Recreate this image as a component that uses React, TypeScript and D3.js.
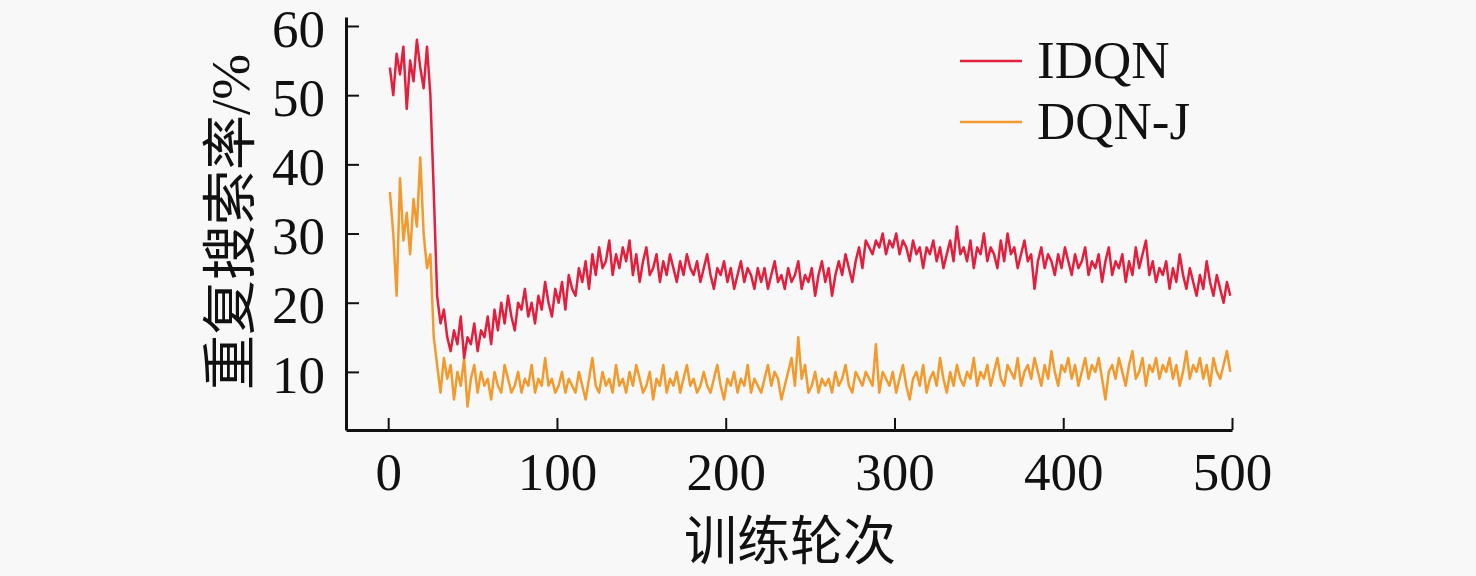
import * as d3 from "d3";
import React, { RefObject, useEffect, useRef } from "react";

// repeat-search rate per training episode (sampled every 2 episodes, 1..499)
const idqn: number[] = [
  54, 50, 56, 53, 57, 48, 55, 52, 58, 54, 51, 57, 50,
  36, 21,
  17, 19, 15, 13, 16, 14, 18, 12, 15, 14, 17, 13, 16, 15, 18,
  14, 19, 16, 20, 17, 21, 18, 16, 20, 19, 22, 18, 20, 17, 21, 19, 23, 20, 18, 22,
  20, 23, 19, 24, 22, 21, 25, 23, 26, 22, 27, 24, 28, 25, 26, 29, 24, 27, 25, 28,
  26, 29, 24, 27, 23, 26, 28, 24, 25, 27, 23, 26, 24, 27, 25, 23, 26, 24, 27, 25,
  24, 26, 23, 25, 27, 24, 22, 25, 24, 26, 23, 25, 22, 24, 26, 23, 25, 24, 22, 25,
  23, 25, 22, 24, 26, 23, 24, 22, 25, 23, 24, 26, 22, 24, 23, 25, 21, 24, 26, 23,
  25, 21, 24, 26, 24, 27, 25, 23, 26, 28, 25, 29, 28, 27, 29, 28, 30, 27, 29, 28,
  30, 27, 29, 28, 26, 29, 27, 28, 25, 28, 27, 29, 26, 28, 25, 27, 29, 26, 31, 27,
  28, 26, 29, 25, 28, 27, 30, 26, 28, 27, 25, 29, 26, 30, 27, 28, 25, 27, 29, 26,
  27, 22, 26, 28, 25, 27, 26, 24, 27, 25, 28, 26, 24, 27, 25, 26, 28, 24, 26, 25,
  27, 23, 26, 28, 24, 26, 25, 27, 23, 26, 24, 28, 25, 27, 29, 24, 26, 23, 25, 24,
  26, 22, 25, 23, 27, 24, 22, 25, 23, 21, 24, 22, 26, 23, 21, 24, 22, 20, 23, 21,
];

const dqnJ: number[] = [
  36, 30, 21, 38, 29, 33, 27, 35, 31, 41, 30, 25, 27,
  15, 11,
  7, 12, 9, 11, 6, 10, 8, 12, 5, 9, 11, 7, 10, 8, 9,
  6, 10, 8, 7, 11, 9, 7, 8, 10, 7, 9, 8, 11, 7, 9, 8, 12, 8, 9, 7,
  8, 10, 7, 9, 8, 7, 10, 8, 6, 9, 12, 8, 7, 10, 8, 9, 7, 11, 8, 9,
  7, 10, 8, 11, 9, 7, 8, 10, 6, 9, 8, 11, 7, 9, 8, 10, 7, 9, 11, 8,
  9, 7, 8, 10, 8, 7, 9, 11, 8, 6, 9, 8, 10, 7, 9, 8, 11, 7, 9, 8,
  7, 9, 11, 8, 10, 9, 6, 8, 10, 12, 8, 15, 9, 11, 7, 8, 10, 7, 9, 8,
  9, 7, 10, 8, 9, 11, 8, 7, 10, 9, 8, 10, 9, 8, 14, 7, 10, 9, 8, 10,
  7, 9, 11, 8, 6, 9, 10, 8, 11, 7, 9, 10, 8, 12, 9, 7, 10, 8, 11, 9,
  8, 10, 9, 12, 8, 10, 9, 11, 8, 10, 12, 9, 8, 11, 10, 9, 12, 8, 10, 11,
  9, 12, 10, 8, 11, 9, 13, 10, 8, 11, 10, 12, 9, 11, 8, 10, 12, 9, 11, 10,
  12, 9, 6, 10, 11, 9, 12, 10, 8, 11, 13, 9, 10, 12, 8, 11, 10, 12, 9, 11,
  10, 12, 9, 11, 8, 10, 13, 9, 11, 10, 12, 9, 11, 8, 12, 10, 9, 11, 13, 10,
];

const episodes = idqn.map((_, i) => 1 + 2 * i);
const xTicks = [0, 100, 200, 300, 400, 500];
const yTicks = [10, 20, 30, 40, 50, 60];
const seriesNames = ["IDQN", "DQN-J"];
const seriesColors = ["#e31f3e", "#f29a2e"];
const xTitle = "训练轮次";
const yTitle = "重复搜索率/%";

const W = 1476;
const H = 576;

const App = () => {
  const ref: RefObject<SVGSVGElement> = useRef(null);

  useEffect(() => {
    const svg = d3.select(ref.current);
    svg.selectAll("*").remove();
    const serif = "'Liberation Serif', 'Times New Roman', serif";
    const cjk = "'Liberation Serif', 'Noto Sans CJK SC', serif";

    svg.append("rect").attr("width", W).attr("height", H).attr("fill", "#f8f8f8");

    const x = d3.scaleLinear().domain([-25, 500]).range([346, 1232]);
    const y = d3.scaleLinear().domain([1.6, 61.3]).range([430, 17]);

    const line = d3
      .line<number>()
      .x((d, i) => x(episodes[i]))
      .y((d) => y(d));

    // orange first so the red line sits on top
    [dqnJ, idqn].forEach((s, k) => {
      svg
        .append("path")
        .datum(s)
        .attr("fill", "none")
        .attr("stroke", seriesColors[1 - k])
        .attr("stroke-width", 2.5)
        .attr("stroke-linejoin", "round")
        .attr("d", line);
    });

    const gx = svg
      .append("g")
      .attr("transform", "translate(0,430)")
      .call(d3.axisBottom(x).tickValues(xTicks).tickSizeInner(-12).tickSizeOuter(0).tickPadding(22));
    const gy = svg
      .append("g")
      .attr("transform", "translate(346,0)")
      .call(d3.axisLeft(y).tickValues(yTicks).tickSizeInner(-13).tickSizeOuter(0).tickPadding(21));

    [gx, gy].forEach((g) => {
      g.attr("font-family", serif).attr("font-size", 53);
      g.select(".domain").attr("stroke", "#111").attr("stroke-width", 3);
      g.selectAll(".tick line").attr("stroke", "#111").attr("stroke-width", 2);
      g.selectAll(".tick text").attr("fill", "#111");
    });
    gy.selectAll(".tick text").attr("dy", "0.38em");

    svg
      .append("text")
      .attr("x", 790)
      .attr("y", 560)
      .attr("text-anchor", "middle")
      .attr("font-family", cjk)
      .attr("font-size", 53)
      .attr("fill", "#111")
      .text(xTitle);

    svg
      .append("text")
      .attr("transform", "translate(249,222) rotate(-90)")
      .attr("text-anchor", "middle")
      .attr("font-family", cjk)
      .attr("font-size", 55)
      .attr("fill", "#111")
      .text(yTitle);

    seriesNames.forEach((name, i) => {
      const ly = 61 + i * 61;
      svg
        .append("line")
        .attr("x1", 960)
        .attr("x2", 1022)
        .attr("y1", ly)
        .attr("y2", ly)
        .attr("stroke", seriesColors[i])
        .attr("stroke-width", 2.5);
      svg
        .append("text")
        .attr("x", 1037)
        .attr("y", ly)
        .attr("dy", "0.33em")
        .attr("font-family", serif)
        .attr("font-size", 53)
        .attr("fill", "#111")
        .text(name);
    });
  }, [ref]);

  return (
    <svg
      ref={ref}
      width={W}
      height={H}
      style={{ position: "absolute", left: 0, top: 0, display: "block" }}
    />
  );
};

export default App;
